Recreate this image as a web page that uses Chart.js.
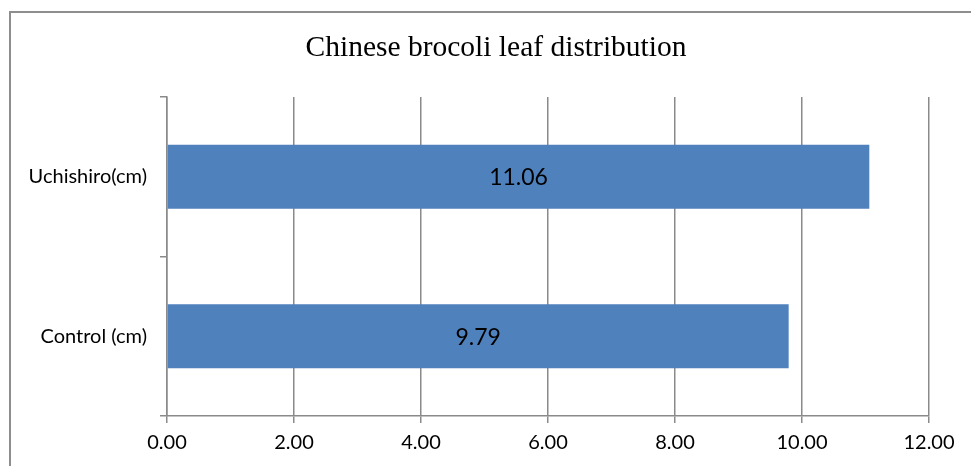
<!DOCTYPE html>
<html>
<head>
<meta charset="utf-8">
<script src="https://cdn.jsdelivr.net/npm/chart.js@4/dist/chart.umd.min.js"></script>
<style>
  html, body { margin: 0; padding: 0; background: #fff; overflow: hidden; }
  #wrap { position: relative; width: 971px; height: 466px; overflow: hidden; }
  #frame { position: absolute; left: 9px; top: 11px; width: 1100px; height: 600px;
           border: 2px solid #8e8e8e; box-sizing: border-box; }
  canvas { position: absolute; left: 0; top: 0; }
</style>
</head>
<body>
<div id="wrap">
  <div id="frame"></div>
  <canvas id="chart" width="971" height="466"></canvas>
</div>
<script>
// Chart content
const chartTitle = 'Chinese brocoli leaf distribution';
const categories = ['Uchishiro(cm)', 'Control (cm)'];
const leafValues = [11.06, 9.79];
const axisMin = 0;
const axisMax = 12;
const axisStep = 2;

const GRID = '#8a8a8a';
const BAR = '#4f81bd';

// Title drawn centred above the plot area
const titlePlugin = {
  id: 'serifTitle',
  afterDraw(chart) {
    const ctx = chart.ctx;
    ctx.save();
    ctx.font = '29.5px "Liberation Serif", "Times New Roman", serif';
    ctx.fillStyle = '#000';
    ctx.textAlign = 'center';
    ctx.textBaseline = 'middle';
    ctx.fillText(chartTitle, 496, 48);
    ctx.restore();
  }
};

// Value labels centred inside each bar
const valueLabels = {
  id: 'valueLabels',
  afterDatasetsDraw(chart) {
    const ctx = chart.ctx;
    ctx.save();
    ctx.font = '23px Lato, "Open Sans", sans-serif';
    ctx.fillStyle = '#000';
    ctx.textAlign = 'center';
    ctx.textBaseline = 'middle';
    chart.getDatasetMeta(0).data.forEach((bar, i) => {
      const v = chart.data.datasets[0].data[i];
      const cx = (bar.base + bar.x) / 2;
      ctx.fillText(v.toFixed(2), cx, bar.y + 1);
    });
    ctx.restore();
  }
};

new Chart(document.getElementById('chart'), {
  type: 'bar',
  data: {
    labels: categories,
    datasets: [{
      data: leafValues,
      backgroundColor: BAR,
      borderWidth: 0,
      barPercentage: 0.4,
      categoryPercentage: 1.0
    }]
  },
  options: {
    indexAxis: 'y',
    responsive: false,
    animation: false,
    devicePixelRatio: 1,
    layout: { padding: { top: 97, right: 42, left: 0, bottom: 0 } },
    plugins: {
      legend: { display: false },
      title: { display: false },
      tooltip: { enabled: false }
    },
    scales: {
      x: {
        type: 'linear',
        min: axisMin,
        max: axisMax,
        afterFit(scale) { scale.height = 50; },
        ticks: {
          stepSize: axisStep,
          padding: 8,
          color: '#000',
          font: { family: 'Lato, "Open Sans", sans-serif', size: 20 },
          callback: v => Number(v).toFixed(2)
        },
        grid: { color: GRID, lineWidth: 1.5, tickLength: 7, drawTicks: true },
        border: { display: true, color: GRID, width: 1.5 }
      },
      y: {
        type: 'category',
        afterFit(scale) { scale.width = 167; },
        ticks: {
          padding: 13,
          color: '#000',
          font: { family: 'Lato, "Open Sans", sans-serif', size: 20 }
        },
        grid: { offset: true, drawOnChartArea: false, drawTicks: true, tickLength: 7, color: GRID, lineWidth: 1.5 },
        border: { display: true, color: GRID, width: 1.5 }
      }
    }
  },
  plugins: [titlePlugin, valueLabels]
});
</script>
</body>
</html>
